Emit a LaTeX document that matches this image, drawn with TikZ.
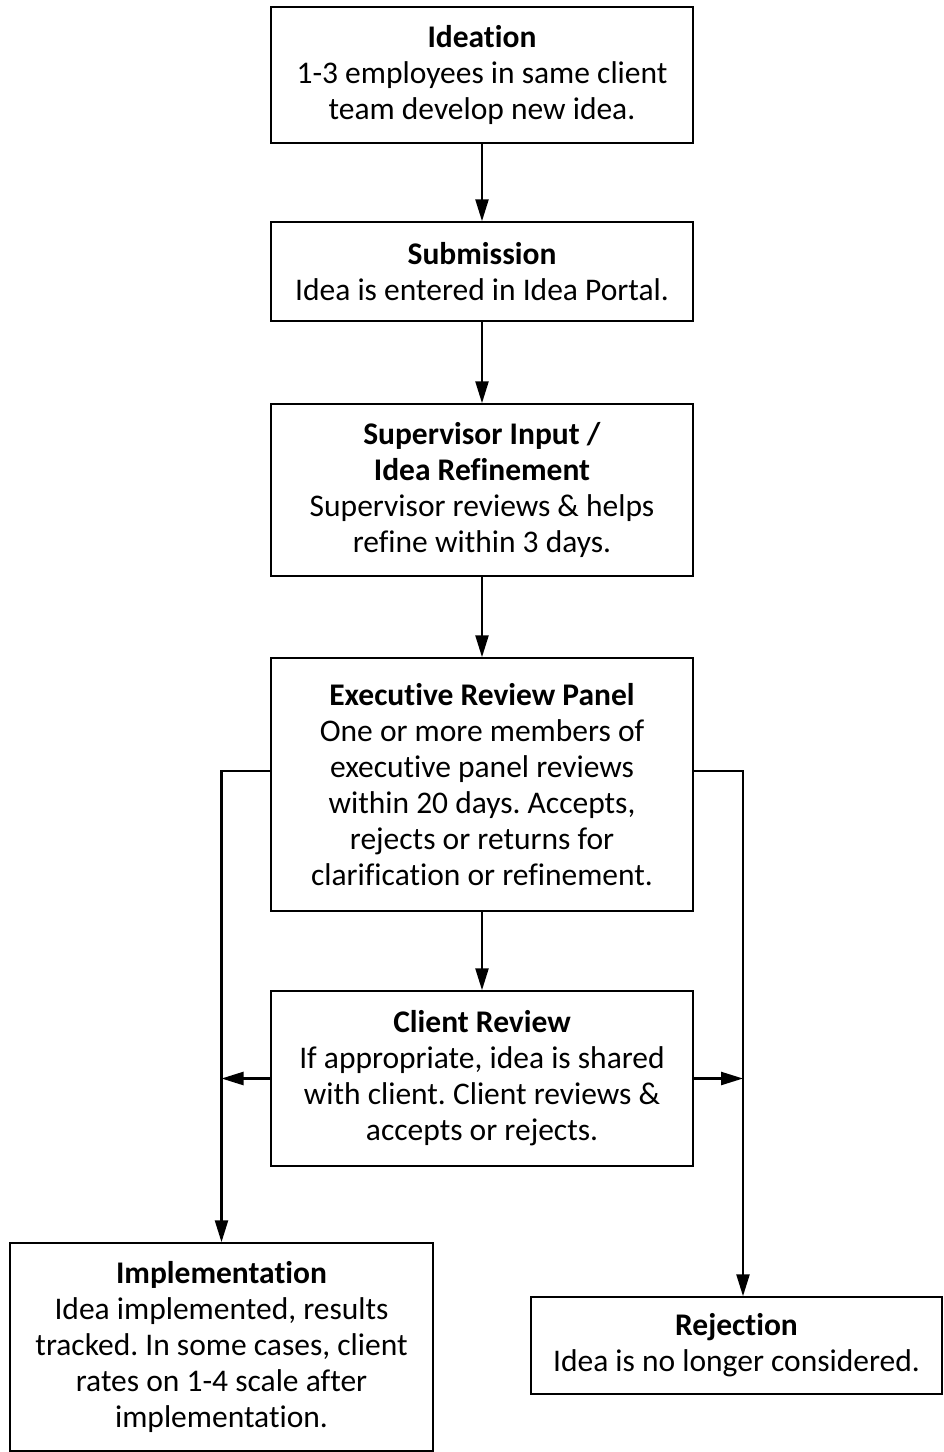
\documentclass[tikz,border=0pt]{standalone}
\usepackage{fontspec}
\setmainfont[Ligatures=NoCommon]{Carlito}
\usetikzlibrary{arrows.meta}
\begin{document}
\frenchspacing
\begin{tikzpicture}[x=1pt,y=-1pt,
  box/.style={draw=black, line width=1.5pt, fill=white, inner sep=0pt, align=center,
    font=\fontsize{31.5}{36}\selectfont},
  arr/.style={line width=2.4pt, -{Triangle[length=22pt,width=13pt]}}]
\useasboundingbox (0,0) rectangle (943,1452);
\fill[white] (0,0) rectangle (943,1452);
\node[box, minimum width=422pt, minimum height=136pt] (ide) at (482,75)
  {\textbf{Ideation}\\1-3 employees in same client\\team develop new idea.};
\node[box, minimum width=422pt, minimum height=99pt] (sub) at (482,271.5)
  {\textbf{Submission}\\Idea is entered in Idea Portal.};
\node[box, minimum width=422pt, minimum height=172pt] (sup) at (482,490)
  {\textbf{Supervisor Input /}\\\textbf{Idea Refinement}\\Supervisor reviews \& helps\\refine within 3 days.};
\node[box, minimum width=422pt, minimum height=253pt] (exe) at (482,784.5)
  {\textbf{Executive Review Panel}\\One or more members of\\executive panel reviews\\within 20 days. Accepts,\\rejects or returns for\\clarification or refinement.};
\node[box, minimum width=422pt, minimum height=175pt] (cli) at (482,1078.5)
  {\textbf{Client Review}\\If appropriate, idea is shared\\with client. Client reviews \&\\accepts or rejects.};
\node[box, minimum width=423pt, minimum height=208pt] (imp) at (221.5,1347)
  {\textbf{Implementation}\\Idea implemented, results\\tracked. In some cases, client\\rates on 1-4 scale after\\implementation.};
\node[box, minimum width=411pt, minimum height=97pt] (rej) at (736.5,1345.5)
  {\textbf{Rejection}\\Idea is no longer considered.};
\coordinate (ly) at (0,771);
\coordinate (rx) at (743,0);
\draw[arr] (ide.south) -- (sub.north);
\draw[arr] (sub.south) -- (sup.north);
\draw[arr] (sup.south) -- (exe.north);
\draw[arr] (exe.south) -- (cli.north);
\draw[arr] (exe.west |- ly) -| (imp.north);
\draw[arr] (exe.east |- ly) -| (rx |- rej.north);
\draw[arr] (cli.west) -- (cli.west -| imp.north);
\draw[arr] (cli.east) -- (cli.east -| rx);
\end{tikzpicture}
\end{document}
